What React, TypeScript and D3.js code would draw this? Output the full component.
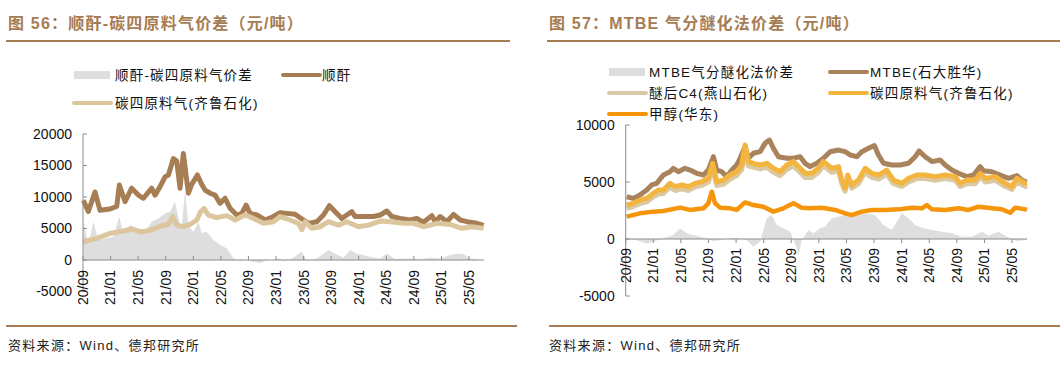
import React from 'react';
import * as d3 from 'd3';

// x values are months counted from 2020-09 (0 = 20/09)
const tickLabels = ['20/09', '21/01', '21/05', '21/09', '22/01', '22/05', '22/09', '23/01', '23/05', '23/09', '24/01', '24/05', '24/09', '25/01', '25/05'];

// 图56
const maSpread = [
  [0.05, 6350], [0.77, 2380], [1.5, 6080], [2.23, 3170], [3.44, 3440], [4.4, 3700], [5.27, 6880], [5.85, 4240],
  [6.82, 5560], [7.79, 5030], [8.76, 4240], [9.97, 6080], [10.93, 6600], [11.9, 7400], [12.63, 7670], [13.35, 9250],
  [13.84, 6600], [14.32, 5030], [14.8, 11100], [15.29, 5560], [16.01, 4500], [16.74, 6080], [17.22, 4240], [17.95, 4500],
  [18.92, 3170], [19.88, 2380], [20.85, 1850], [21.82, 270], [22.79, -150], [23.75, 0], [24.72, -270], [25.69, -530],
  [26.66, 0], [27.62, 0], [28.59, 270], [29.08, -250], [30.29, 250], [31.74, 1300], [32.46, -150], [33.92, 250],
  [35.61, 1600], [36.58, 1000], [37.79, 350], [38.75, 1600], [39.72, 1000], [40.69, 800], [41.65, 500], [43.1, 250],
  [44.07, 1050], [45.28, 150], [46.97, 250], [48.91, 150], [50.36, 350], [51.81, 250], [53.27, 800], [54.23, 1000],
  [55.2, 900], [56.17, 250], [57.62, 0], [58.11, 0],
];
const maPrice = [
  [0.05, 9500], [0.77, 7700], [1.74, 10800], [2.47, 7900], [3.92, 8100], [4.89, 8500], [5.27, 11900], [6.1, 9250],
  [7.06, 11400], [8.03, 10300], [8.76, 9800], [9.97, 11400], [10.45, 10300], [11.18, 11650], [11.9, 13200], [12.39, 13500],
  [13.11, 16100], [13.6, 15700], [14.08, 11400], [14.56, 16900], [14.95, 13500], [15.29, 10600], [15.77, 12000], [16.59, 13500],
  [17.22, 12000], [17.71, 11100], [18.43, 10600], [19.16, 10300], [19.88, 9000], [20.61, 9800], [21.34, 8200], [22.3, 7140],
  [23.03, 7400], [23.66, 8700], [24.24, 7400], [25.21, 7140], [26.42, 6350], [27.62, 6900], [28.59, 7500], [29.56, 7400],
  [30.77, 7250], [31.98, 6350], [32.7, 5820], [33.92, 6080], [34.88, 7140], [35.75, 8620], [36.58, 7670], [37.54, 6600],
  [38.27, 7140], [39.0, 7670], [39.48, 6900], [40.69, 6900], [42.14, 6900], [43.1, 7140], [44.07, 7780], [44.8, 6900],
  [46.01, 6600], [47.46, 6350], [48.43, 6600], [49.39, 5980], [50.6, 7040], [51.09, 6080], [51.81, 6900], [52.78, 6080],
  [53.75, 7250], [54.72, 6350], [55.68, 6080], [57.14, 5820], [58.11, 5500],
];
const c4Qilu1 = [
  [0.05, 2900], [1.98, 3440], [3.92, 4240], [4.89, 4400], [5.85, 4600], [7.06, 4920], [8.27, 4500], [9.24, 4600],
  [10.21, 4920], [11.42, 5450], [12.39, 5640], [13.01, 6880], [13.6, 5540], [14.56, 5280], [15.53, 5640], [16.5, 6350],
  [17.08, 7670], [17.56, 8200], [18.19, 7140], [19.4, 6720], [20.85, 7040], [22.06, 6350], [23.51, 7140], [24.72, 6600],
  [26.17, 5820], [27.62, 6080], [28.59, 6900], [30.04, 6350], [31.25, 5820], [31.74, 4800], [32.22, 6080], [33.19, 5030],
  [34.4, 5280], [35.61, 6080], [37.06, 5540], [38.27, 6080], [39.96, 5280], [41.41, 5540], [43.1, 6180], [44.56, 6080],
  [46.49, 5820], [47.94, 5820], [49.39, 5280], [51.33, 5820], [53.27, 5640], [54.96, 5030], [56.41, 5280], [58.11, 5030],
];

// 图57
const mtbeSpread = [
  [0.14, 0], [1.59, -100], [3.04, -400], [4.01, -250], [5.46, 60], [6.91, 350], [7.88, 940], [8.84, 500], [9.81, 350],
  [10.78, 200], [11.74, 60], [12.71, -170], [13.68, -100], [15.13, 100], [16.58, 60], [17.54, -100], [18.51, -670],
  [19.48, -250], [20.45, 1810], [21.17, 2100], [21.9, 1230], [22.86, 940], [23.83, 640], [24.8, -820], [25.04, -1500],
  [25.52, -100], [26.49, 790], [27.21, 500], [28.18, 940], [28.9, 1080], [29.87, 1810], [30.84, 1960], [31.81, 2100],
  [33.26, 2100], [34.71, 2250], [36.16, 2100], [37.37, 1230], [38.58, 790], [39.3, 1520], [40.03, 2250], [40.99, 1810],
  [41.96, 1230], [43.17, 940], [44.39, 790], [45.83, 640], [47.28, 500], [48.73, 200], [50.18, 200], [51.63, 640],
  [52.6, 290], [54.05, 640], [55.26, 200], [55.99, 0], [56.71, -170], [57.93, -100], [58.17, -100],
];
const mtbePrice = [
  [0.14, 3710], [1.11, 3560], [2.07, 3860], [3.04, 4300], [3.77, 4740], [4.49, 4880], [5.46, 5610], [6.42, 5900],
  [6.91, 6200], [7.63, 5900], [8.6, 6200], [9.33, 6050], [10.29, 5760], [11.26, 5610], [11.98, 6050], [12.71, 7220],
  [13.19, 6050], [13.92, 5900], [14.64, 5470], [15.37, 6050], [16.09, 6490], [16.58, 7080], [17.3, 8100], [17.79, 7080],
  [18.51, 7520], [19.48, 7660], [20.2, 8390], [20.83, 8680], [21.41, 7960], [22.14, 7220], [23.35, 7080], [24.31, 7080],
  [25.28, 7220], [26.0, 6640], [26.73, 6350], [27.7, 6640], [28.66, 7080], [29.63, 7660], [30.84, 7800], [31.81, 7660],
  [32.53, 7370], [33.5, 7220], [34.22, 7660], [35.19, 7960], [36.06, 8190], [36.64, 7370], [37.37, 6640], [38.58, 6490],
  [39.79, 6490], [40.99, 6640], [41.96, 7220], [42.54, 7720], [43.41, 7220], [44.39, 6790], [45.59, 6930], [46.31, 6490],
  [47.28, 6050], [48.25, 5760], [49.45, 5470], [50.42, 5610], [51.39, 6350], [51.87, 5990], [53.08, 5900], [54.29, 5610],
  [55.5, 5320], [56.71, 5560], [57.44, 5170], [57.93, 5030], [58.17, 5000],
];
const c4Yanshan = [
  [0.14, 2680], [1.11, 2850], [2.07, 3100], [3.04, 3250], [4.01, 3700], [4.73, 3950], [5.46, 4000], [6.42, 4550],
  [7.15, 4250], [8.12, 4400], [9.08, 4250], [10.05, 4550], [11.02, 4700], [11.98, 5000], [12.61, 6200], [13.19, 4700],
  [14.16, 4800], [15.13, 5250], [16.09, 5550], [16.82, 6100], [17.3, 7600], [17.79, 6400], [18.51, 6300], [19.48, 6150],
  [20.45, 6300], [21.41, 5850], [22.38, 5550], [23.35, 6100], [24.31, 6400], [25.28, 5850], [26.0, 5400], [26.97, 5400],
  [27.94, 5850], [28.66, 6450], [29.87, 5850], [30.84, 6000], [31.32, 4850], [31.81, 4200], [32.19, 5300], [32.77, 4450],
  [33.74, 4850], [34.71, 5850], [35.67, 5400], [36.64, 5250], [37.85, 5700], [38.82, 4850], [40.03, 4600], [40.99, 5000],
  [42.2, 5300], [43.41, 5300], [44.86, 5150], [46.31, 5300], [47.76, 5150], [48.49, 4600], [49.45, 4850], [50.66, 4850],
  [51.39, 5450], [52.12, 5000], [53.57, 5150], [55.02, 4600], [55.99, 4350], [56.71, 5000], [57.93, 4600], [58.17, 4650],
];
const c4Qilu2 = [
  [0.14, 2980], [1.11, 3130], [2.07, 3420], [3.04, 3560], [4.01, 4010], [4.73, 4300], [5.46, 4300], [6.42, 4880],
  [7.15, 4590], [8.12, 4740], [9.08, 4590], [10.05, 4880], [11.02, 5030], [11.98, 5320], [12.61, 6640], [13.19, 5030],
  [14.16, 5170], [15.13, 5610], [16.09, 5900], [16.82, 6490], [17.3, 8250], [17.79, 6790], [18.51, 6640], [19.48, 6490],
  [20.45, 6640], [21.41, 6200], [22.38, 5900], [23.35, 6490], [24.31, 6790], [25.28, 6200], [26.0, 5760], [26.97, 5760],
  [27.94, 6200], [28.66, 6790], [29.87, 6200], [30.84, 6350], [31.32, 5170], [31.81, 4440], [32.19, 5610], [32.77, 4740],
  [33.74, 5170], [34.71, 6200], [35.67, 5760], [36.64, 5610], [37.85, 6050], [38.82, 5170], [40.03, 4880], [40.99, 5320],
  [42.2, 5610], [43.41, 5610], [44.86, 5470], [46.31, 5610], [47.76, 5470], [48.49, 4880], [49.45, 5170], [50.66, 5170],
  [51.39, 5760], [52.12, 5320], [53.57, 5470], [55.02, 4880], [55.99, 4590], [56.71, 5320], [57.93, 4880], [58.17, 4900],
];
const methanol = [
  [0.14, 1960], [2.07, 2250], [4.01, 2400], [5.46, 2450], [7.88, 2750], [9.33, 2550], [11.26, 2690], [11.98, 3130],
  [12.47, 4150], [12.95, 3130], [13.68, 2750], [15.13, 2690], [16.09, 2550], [17.3, 3210], [18.51, 2980], [19.96, 2830],
  [21.41, 2400], [22.86, 2690], [24.31, 3130], [25.52, 2750], [26.73, 2690], [28.18, 2750], [28.9, 2690], [30.36, 2550],
  [31.81, 2250], [32.77, 2100], [34.22, 2400], [35.67, 2550], [37.61, 2550], [39.54, 2600], [41.48, 2750], [42.93, 2690],
  [43.65, 2980], [44.39, 2600], [46.31, 2550], [48.25, 2690], [49.69, 2550], [51.15, 2830], [53.08, 2690], [54.54, 2600],
  [55.75, 2300], [56.47, 2750], [57.93, 2600], [58.17, 2550],
];

const TITLE = '#A67C52';
const CJK = '"Noto Sans CJK SC", sans-serif';
const LATIN = '"Liberation Sans", Arial, sans-serif';
const MIXED = '"Liberation Sans", "Noto Sans CJK SC", sans-serif';

type Pt = number[];
type Line = { name: string; data: Pt[]; color: string; width: number };

function Panel(props: {
  x0: number; x1: number; yTop: number; yBot: number;
  yDomain: [number, number]; yTicks: number[];
  spread: Pt[]; lines: Line[]; tickDir: number; labelGap: number;
}) {
  const { x0, x1, yTop, yBot, yDomain, yTicks, spread, lines, tickDir, labelGap } = props;
  const x = d3.scaleLinear().domain([0, 58.17]).range([x0, x1]);
  const y = d3.scaleLinear().domain(yDomain).range([yBot, yTop]);
  const area = d3.area<Pt>().x(d => x(d[0])).y0(y(0)).y1(d => y(d[1]));
  const line = d3.line<Pt>().x(d => x(d[0])).y(d => y(d[1]));
  const y0 = y(0);
  return (
    <g>
      <path d={area(spread) || ''} fill="#DEDEDE" />
      {lines.map(l => (
        <path key={l.name} d={line(l.data) || ''} fill="none" stroke={l.color} strokeWidth={l.width} strokeLinejoin="round" />
      ))}
      <line x1={x0} x2={x0} y1={yTop} y2={yBot} stroke="#8c8c8c" />
      {yTicks.map(t => (
        <g key={t}>
          <line x1={x0} x2={x0 + 4} y1={y(t)} y2={y(t)} stroke="#8c8c8c" />
          <text x={x0 - 11} y={y(t)} dy="0.35em" textAnchor="end" fontSize={14} fontFamily={LATIN} fill="#111">{t}</text>
        </g>
      ))}
      <line x1={x0} x2={x1} y1={y0} y2={y0} stroke="#8c8c8c" />
      {tickLabels.map((lab, i) => (
        <g key={lab}>
          <line x1={x(i * 4)} x2={x(i * 4)} y1={y0} y2={y0 + tickDir * 4} stroke="#8c8c8c" />
          <text transform={`translate(${x(i * 4)},${y0 + labelGap}) rotate(-90)`} dy="0.35em" textAnchor="end"
            fontSize={14} fontFamily={LATIN} fill="#111">{lab}</text>
        </g>
      ))}
    </g>
  );
}

function LegendItem(props: { x: number; y: number; label: string; color: string; box?: boolean; textX: number }) {
  const { x, y, label, color, box, textX } = props;
  return (
    <g>
      {box
        ? <rect x={x} y={y - 4} width={36} height={8} fill={color} />
        : <line x1={x} x2={x + 37} y1={y} y2={y} stroke={color} strokeWidth={4} strokeLinecap="round" />}
      <text x={textX} y={y} dy="0.36em" fontSize={13.5} letterSpacing={1.2} fontFamily={MIXED} fill="#111">{label}</text>
    </g>
  );
}

export default function App() {
  const brownL = '#A77D54';
  const tanL = '#DBC69E';
  const brownR = '#A9835C';
  const tanR = '#DAC9A4';
  const yellow = '#F4B53F';
  const orange = '#F5960A';
  return (
    <svg width={1063} height={367} style={{ position: 'absolute', left: 0, top: 0, background: '#fff' }}>
      {/* titles */}
      <text x={8} y={29} fontSize={16} fontWeight="bold" letterSpacing={1.2} fontFamily={MIXED} fill={TITLE}>图 56：顺酐-碳四原料气价差（元/吨）</text>
      <text x={549} y={29} fontSize={16} fontWeight="bold" letterSpacing={1.2} fontFamily={MIXED} fill={TITLE}>图 57：MTBE 气分醚化法价差（元/吨）</text>
      <line x1={6} x2={510} y1={41} y2={41} stroke={TITLE} strokeWidth={2} />
      <line x1={547} x2={1060} y1={41} y2={41} stroke={TITLE} strokeWidth={2} />

      {/* legends */}
      <LegendItem x={74} y={75} box label="顺酐-碳四原料气价差" color="#DEDEDE" textX={115} />
      <LegendItem x={283} y={75} label="顺酐" color={brownL} textX={322} />
      <LegendItem x={74} y={103} label="碳四原料气(齐鲁石化)" color={tanL} textX={115} />

      <LegendItem x={609} y={72} box label="MTBE气分醚化法价差" color="#DEDEDE" textX={649} />
      <LegendItem x={830} y={72} label="MTBE(石大胜华)" color={brownR} textX={870} />
      <LegendItem x={609} y={93} label="醚后C4(燕山石化)" color={tanR} textX={649} />
      <LegendItem x={830} y={93} label="碳四原料气(齐鲁石化)" color={yellow} textX={870} />
      <LegendItem x={609} y={114} label="甲醇(华东)" color={orange} textX={649} />

      <Panel x0={83} x1={484} yTop={134} yBot={291.5} yDomain={[-5000, 20000]} yTicks={[-5000, 0, 5000, 10000, 15000, 20000]}
        spread={maSpread} tickDir={-1} labelGap={10}
        lines={[
          { name: 'ma', data: maPrice, color: brownL, width: 5 },
          { name: 'c4', data: c4Qilu1, color: tanL, width: 5 },
        ]} />
      <Panel x0={625.7} x1={1027} yTop={125} yBot={296} yDomain={[-5000, 10000]} yTicks={[-5000, 0, 5000, 10000]}
        spread={mtbeSpread} tickDir={1} labelGap={9}
        lines={[
          { name: 'mtbe', data: mtbePrice, color: brownR, width: 5 },
          { name: 'ys', data: c4Yanshan, color: tanR, width: 5 },
          { name: 'ql', data: c4Qilu2, color: yellow, width: 5 },
          { name: 'me', data: methanol, color: orange, width: 4.5 },
        ]} />

      {/* footers */}
      <line x1={6} x2={517} y1={326} y2={326} stroke={TITLE} strokeWidth={2} />
      <line x1={549} x2={1060} y1={326} y2={326} stroke={TITLE} strokeWidth={2} />
      <text x={8} y={345} dy="0.35em" fontSize={13} letterSpacing={1.3} fontFamily={MIXED} fill="#222">资料来源：Wind、德邦研究所</text>
      <text x={549} y={345} dy="0.35em" fontSize={13} letterSpacing={1.3} fontFamily={MIXED} fill="#222">资料来源：Wind、德邦研究所</text>
    </svg>
  );
}
